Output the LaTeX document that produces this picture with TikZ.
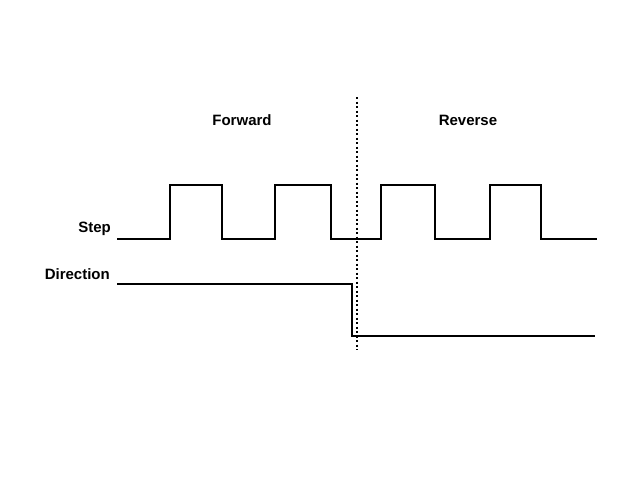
\documentclass[tikz,border=0pt]{standalone}
\usepackage{fontspec}
\setmainfont{Liberation Sans}
\begin{document}
\begin{tikzpicture}[x=1pt,y=-1pt,
  wave/.style={line width=2.4pt, line join=miter},
  lbl/.style={font=\bfseries\fontsize{15}{18}\selectfont, inner sep=0pt},
  sep/.style={line width=1.5pt, dash pattern=on 2pt off 2.5pt}]
\useasboundingbox[fill=white] (0,0) rectangle (643,482);
\node[lbl] (fwd) at (242,120) {Forward};
\node[lbl] (rev) at (468,120) {Reverse};
\node[lbl, anchor=east] (step) at (111,229) {Step};
\node[lbl, anchor=east] (dir) at (110,274) {Direction};
\coordinate (s0) at (117,239);
\coordinate (s1) at (597,239);
\coordinate (d0) at (117,284);
\coordinate (d1) at (595,336);
\coordinate (t) at (357,97);
\coordinate (b) at (357,350);
\draw[wave] (s0) -- (170,239) -- (170,185) -- (222,185) -- (222,239) -- (275,239) -- (275,185) -- (331,185) -- (331,239) -- (381,239) -- (381,185) -- (435,185) -- (435,239) -- (490,239) -- (490,185) -- (541,185) -- (541,239) -- (s1);
\draw[wave] (d0) -- (352,284) -- (352,336) -- (d1);
\draw[sep] (t) -- (b);
\end{tikzpicture}
\end{document}
